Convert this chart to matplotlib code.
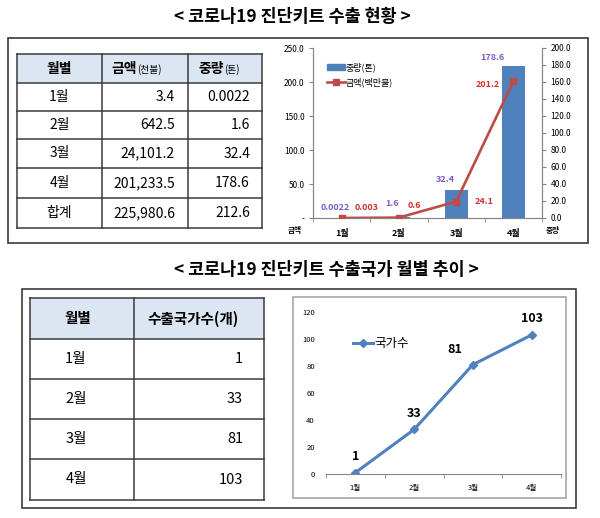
import matplotlib
matplotlib.use("Agg")
import matplotlib.pyplot as plt
from matplotlib.patches import Rectangle, Patch
from matplotlib.lines import Line2D

plt.rcParams['font.family'] = ['Noto Sans CJK KR', 'DejaVu Sans']

W, H = 600, 518

# 데이터
months = ['1월', '2월', '3월', '4월']
amount_k = [3.4, 642.5, 24101.2, 201233.5]      # 금액(천불)
weight_t = [0.0022, 1.6, 32.4, 178.6]            # 중량(톤)
total_amount = 225980.6
total_weight = 212.6
amount_m = [0.003, 0.6, 24.1, 201.2]             # 금액(백만불)
countries = [1, 33, 81, 103]                     # 수출국가수(개)

title1 = '< 코로나19 진단키트 수출 현황 >'
title2 = '< 코로나19 진단키트 수출국가 월별 추이 >'

BAR = '#4f81bd'
RED = '#be4b48'
PURPLE = '#7b5cc8'
LRED = '#d23030'
HEAD = '#dce6f2'
EDGE = '#3a3a3a'


def rect(x0, y0, x1, y1):
    return [x0 / W, 1 - y1 / H, (x1 - x0) / W, (y1 - y0) / H]


fig = plt.figure(figsize=(6, 5.18), dpi=100)
bg = fig.add_axes([0, 0, 1, 1])
bg.set_xlim(0, W)
bg.set_ylim(H, 0)
bg.axis('off')

# 제목
bg.text(174, 17, title1, fontsize=12.5, fontweight='bold', ha='left', va='center')
bg.text(174, 270, title2, fontsize=12.5, fontweight='bold', ha='left', va='center')

# 외곽 박스
bg.add_patch(Rectangle((8, 38), 580, 205, fill=False, ec=EDGE, lw=1.2))
bg.add_patch(Rectangle((22, 289), 554, 219, fill=False, ec=EDGE, lw=1.2))
bg.add_patch(Rectangle((293, 297), 273, 201, fill=False, ec='#a6a6a6', lw=1.2))

# ---- 상단 표 ----
cx = [17, 102, 188, 262]
ry = [54, 83, 111, 139, 168, 198, 228]
bg.add_patch(Rectangle((cx[0], ry[0]), cx[-1] - cx[0], ry[1] - ry[0], fc=HEAD, ec='none'))
for x in cx:
    bg.plot([x, x], [ry[0], ry[-1]], color=EDGE, lw=1.1)
for y in ry:
    bg.plot([cx[0], cx[-1]], [y, y], color=EDGE, lw=1.1)

hy = (ry[0] + ry[1]) / 2
bg.text((cx[0] + cx[1]) / 2, hy, '월별', fontsize=10, fontweight='bold', ha='center', va='center')
bg.text(137, hy, '금액', fontsize=10, fontweight='bold', ha='right', va='center')
bg.text(137, hy + 1, '(천불)', fontsize=7, ha='left', va='center')
bg.text(224, hy, '중량', fontsize=10, fontweight='bold', ha='right', va='center')
bg.text(224, hy + 1, '(톤)', fontsize=7, ha='left', va='center')

rows = list(zip(months, amount_k, weight_t)) + [('합계', total_amount, total_weight)]
for i, (m, a, w) in enumerate(rows):
    y = (ry[i + 1] + ry[i + 2]) / 2
    bg.text((cx[0] + cx[1]) / 2, y, m, fontsize=10, ha='center', va='center')
    bg.text(cx[2] - 13, y, f'{a:,.1f}', fontsize=10, ha='right', va='center')
    bg.text(cx[3] - 12, y, str(w), fontsize=10, ha='right', va='center')

# ---- 하단 표 ----
cx2 = [30, 134, 264]
ry2 = [298, 339, 379, 419, 459, 500]
bg.add_patch(Rectangle((cx2[0], ry2[0]), cx2[-1] - cx2[0], ry2[1] - ry2[0], fc=HEAD, ec='none'))
for x in cx2:
    bg.plot([x, x], [ry2[0], ry2[-1]], color=EDGE, lw=1.1)
for y in ry2:
    bg.plot([cx2[0], cx2[-1]], [y, y], color=EDGE, lw=1.1)
hy2 = (ry2[0] + ry2[1]) / 2
bg.text(78, hy2, '월별', fontsize=10.5, fontweight='bold', ha='center', va='center')
bg.text(193, hy2, '수출국가수(개)', fontsize=10.5, fontweight='bold', ha='center', va='center')
for i, (m, c) in enumerate(zip(months, countries)):
    y = (ry2[i + 1] + ry2[i + 2]) / 2
    bg.text(76, y, m, fontsize=10.5, ha='center', va='center')
    bg.text(cx2[2] - 21, y, str(c), fontsize=10.5, ha='right', va='center')

# ---- 상단 차트 ----
x = list(range(len(months)))
ax = fig.add_axes(rect(313, 48, 542, 218))
ax2 = ax.twinx()
ax2.bar(x, weight_t, width=0.4, color=BAR, zorder=2)
ax.plot(x, amount_m, color=RED, lw=1.9, marker='s', ms=5, zorder=3)
ax.set_zorder(ax2.get_zorder() + 1)
ax.patch.set_visible(False)

ax.set_xlim(-0.5, 3.5)
ax.set_ylim(0, 250)
ax2.set_ylim(0, 200)
ax.set_yticks(range(0, 251, 50))
ax.set_yticklabels(['-'] + [f'{v:.1f}' for v in range(50, 251, 50)])
ax2.set_yticks(range(0, 201, 20))
ax2.set_yticklabels([f'{v:.1f}' for v in range(0, 201, 20)])
ax.set_xticks(x)
ax.set_xticklabels(months, fontsize=6.5, fontweight='bold')
ax.set_xticks([-0.5, 0.5, 1.5, 2.5, 3.5], minor=True)
ax.tick_params(axis='x', which='major', length=0, pad=8)
ax.tick_params(axis='x', which='minor', length=3, direction='out', color='#868686')
ax.tick_params(axis='y', labelsize=6, length=3, color='#868686', pad=3)
ax2.tick_params(axis='y', labelsize=6, length=3, color='#868686', pad=3)
for a in (ax, ax2):
    a.spines['top'].set_visible(False)
    for s in ('left', 'right', 'bottom'):
        a.spines[s].set_color('#868686')

# 데이터 레이블 (픽셀 오프셋)
px = 0.72
w_off = [(-6, 10), (-7, 13), (-11, 11), (-21, 9)]
a_off = [(25, 10), (16, 12), (28, 0), (-26, -3)]
for i in x:
    ax2.annotate(str(weight_t[i]), (i, weight_t[i]), xytext=(w_off[i][0] * px, w_off[i][1] * px),
                 textcoords='offset points', ha='center', va='center', fontsize=6.5,
                 fontweight='bold', color=PURPLE)
    ax.annotate(str(amount_m[i]), (i, amount_m[i]), xytext=(a_off[i][0] * px, a_off[i][1] * px),
                textcoords='offset points', ha='center', va='center', fontsize=6.5,
                fontweight='bold', color=LRED)

bg.text(295, 230, '금액', fontsize=5.5, fontweight='bold', ha='center', va='center')
bg.text(553, 230, '중량', fontsize=5.5, fontweight='bold', ha='center', va='center')

handles = [Patch(color=BAR, label='중량(톤)'),
           Line2D([], [], color=RED, lw=1.9, marker='s', ms=5, label='금액(백만불)')]
fig.legend(handles=handles, loc='upper left', bbox_to_anchor=(322 / W, 1 - 58 / H),
           frameon=False, fontsize=6.5, handlelength=2.0, handletextpad=0.1,
           labelspacing=0.6, borderpad=0)

# ---- 하단 차트 ----
bx = fig.add_axes(rect(326, 312, 561, 474))
bx.patch.set_visible(False)
bx.plot(x, countries, color=BAR, lw=2.2, marker='D', ms=4.5)
bx.set_xlim(-0.5, 3.5)
bx.set_ylim(0, 120)
bx.set_yticks(range(0, 121, 20))
bx.set_xticks(x)
bx.set_xticklabels(months, fontsize=5.5)
bx.set_xticks([-0.5, 0.5, 1.5, 2.5, 3.5], minor=True)
bx.tick_params(axis='x', which='major', length=0, pad=7)
bx.tick_params(axis='x', which='minor', length=3, direction='out', color='#868686')
bx.tick_params(axis='y', labelsize=5.5, length=0, pad=8)
for s in ('top', 'right', 'left'):
    bx.spines[s].set_visible(False)
bx.spines['bottom'].set_color('#868686')

c_off = [(0, 16), (0, 16), (-18, 15), (0, 16)]
for i in x:
    bx.annotate(str(countries[i]), (i, countries[i]), xytext=(c_off[i][0] * px, c_off[i][1] * px),
                textcoords='offset points', ha='center', va='center', fontsize=9,
                fontweight='bold')

bx.legend(handles=[Line2D([], [], color=BAR, lw=2.2, marker='D', ms=4.5, label='국가수')],
          loc='upper left', bbox_to_anchor=(347 / W, 1 - 331 / H), bbox_transform=fig.transFigure,
          frameon=False, fontsize=9, handlelength=1.6, handletextpad=0.1, borderpad=0)

fig.savefig('out.png', dpi=100)
